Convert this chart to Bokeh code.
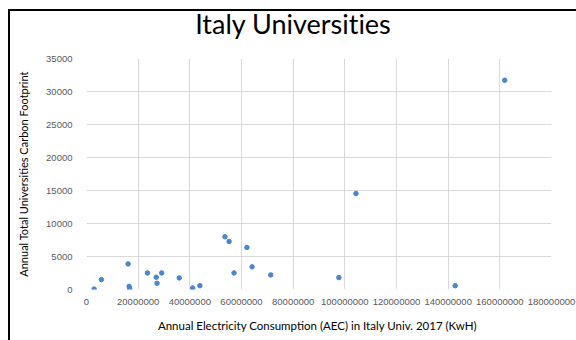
from bokeh.plotting import figure
from bokeh.layouts import column
from bokeh.models import FixedTicker, BasicTickFormatter, Range1d, Div
from bokeh.embed import file_html
from bokeh.resources import INLINE

# Annual electricity consumption (kWh) and carbon footprint per university
aec_kwh = [2940000, 5770000, 16100000, 16500000, 16700000, 23600000, 27000000,
           27300000, 29100000, 35900000, 41100000, 43900000, 53600000, 55200000,
           57100000, 62100000, 64100000, 71300000, 97700000, 104300000,
           142700000, 161900000]
carbon_footprint = [60, 1500, 3880, 480, 120, 2510, 1860,
                    940, 2510, 1750, 230, 580, 7990, 7280,
                    2510, 6370, 3430, 2210, 1800, 14540,
                    580, 31710]

x_ticks = [0, 20000000, 40000000, 60000000, 80000000, 100000000,
           120000000, 140000000, 160000000, 180000000]
y_ticks = [0, 5000, 10000, 15000, 20000, 25000, 30000, 35000]

title_text = "Italy Universities"
x_label = "Annual Electricity Consumption (AEC)  in Italy Univ. 2017 (KwH)"
y_label = "Annual Total Universities Carbon Footprint"

heading = Div(
    text=title_text, width=566, height=29, margin=0,
    styles={"text-align": "center", "font-family": "Lato", "font-size": "27px",
            "line-height": "26px", "color": "#000000", "width": "566px",
            "font-variant-ligatures": "none", "font-feature-settings": "'liga' 0"},
)

p = figure(
    output_backend="svg", toolbar_location=None,
    frame_width=465, frame_height=231, margin=0,
    min_border_left=76, min_border_top=18, min_border_right=25, min_border_bottom=52,
    x_range=Range1d(0, x_ticks[-1]), y_range=Range1d(0, y_ticks[-1]),
)
p.outline_line_color = None
p.background_fill_color = "white"
p.border_fill_color = "white"

p.scatter(aec_kwh, carbon_footprint, size=4.5, color="#4a86cc", line_color="#4a86cc")

for ax in (p.xaxis[0], p.yaxis[0]):
    ax.axis_line_color = None
    ax.major_tick_line_color = None
    ax.minor_tick_line_color = None
    ax.major_label_text_color = "#595959"
    ax.major_label_text_font = "Liberation Sans"
    ax.major_label_text_font_size = "9.5px"
    ax.axis_label_text_font = "Lato"
    ax.axis_label_text_font_style = "normal"
    ax.axis_label_text_color = "#000000"
    ax.formatter = BasicTickFormatter(use_scientific=False)

p.xaxis.ticker = FixedTicker(ticks=x_ticks)
p.yaxis.ticker = FixedTicker(ticks=y_ticks)
p.xaxis.axis_label = x_label
p.yaxis.axis_label = y_label
p.xaxis.axis_label_text_font_size = "11.5px"
p.yaxis.axis_label_text_font_size = "11px"
p.xaxis.major_label_standoff = 3
p.yaxis.major_label_standoff = 8
p.xaxis.axis_label_standoff = 11
p.yaxis.axis_label_standoff = 13

p.xgrid.grid_line_color = "#d9d9d9"
p.ygrid.grid_line_color = "#d9d9d9"

page = column(
    heading, p, spacing=0, margin=(9, 0, 0, 8),
    styles={"border-left": "2px solid #000", "border-top": "2px solid #000",
            "background-color": "white"},
)

open("out.html", "w").write(file_html(page, INLINE))
